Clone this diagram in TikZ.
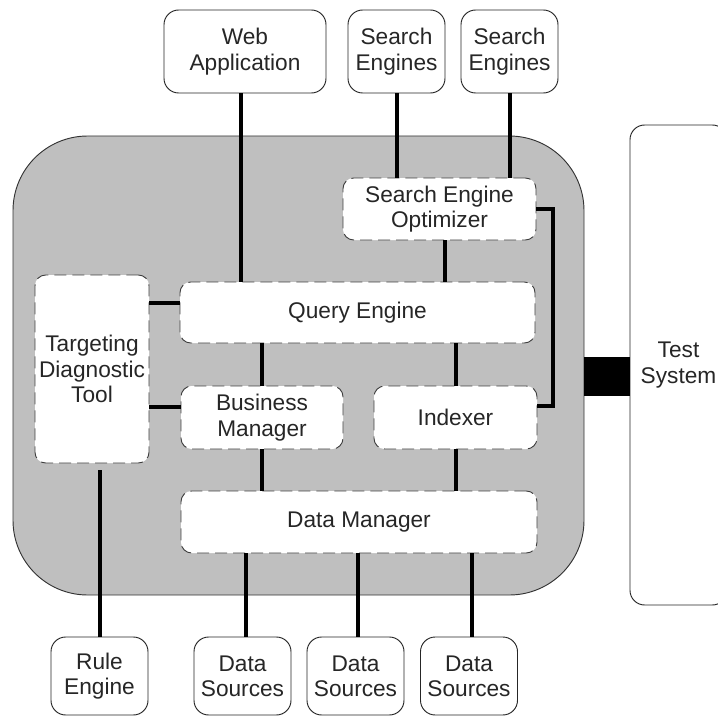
\documentclass[tikz,border=0pt]{standalone}
\usepackage{fontspec}
\setmainfont{Liberation Sans}
\begin{document}
\begin{tikzpicture}[x=0.75pt,y=-0.75pt,
    font=\fontsize{17}{19}\selectfont,
    ext/.style={draw=black!85,fill=white,rounded corners=11pt,align=center,inner sep=0pt,line width=0.7pt,text=black!85},
    part/.style={draw=black!75,fill=white,rounded corners=8pt,dash pattern=on 9pt off 4.5pt,align=center,inner sep=0pt,line width=0.7pt,text=black!85},
    link/.style={line width=3pt}]
  \useasboundingbox (0,0) rectangle (718,717);
  \node[draw=black!80,fill=black!25,rounded corners=56pt,minimum width=428.25pt,minimum height=344.25pt,line width=0.7pt] (core) at (298.5,365.5) {};
  \node[ext,minimum width=72.75pt,minimum height=360pt] (test) at (678.5,365) {Test\\System};
  \node[ext,minimum width=121.5pt,minimum height=62.25pt] (web) at (245,51.5) {Web\\Application};
  \node[ext,minimum width=72.75pt,minimum height=62.25pt] (se1) at (396.5,51.5) {Search\\Engines};
  \node[ext,minimum width=72.75pt,minimum height=62.25pt] (se2) at (509.5,51.5) {Search\\Engines};
  \node[ext,minimum width=72.75pt,minimum height=58.5pt] (rule) at (99.5,676) {Rule\\Engine};
  \node[ext,minimum width=72.75pt,minimum height=58.5pt] (ds1) at (242.5,676) {Data\\Sources};
  \node[ext,minimum width=72.75pt,minimum height=58.5pt] (ds2) at (355.5,676) {Data\\Sources};
  \node[ext,minimum width=72.75pt,minimum height=58.5pt] (ds3) at (469,676) {Data\\Sources};
  \node[part,minimum width=144.75pt,minimum height=46.5pt] (seo) at (439.5,209) {Search Engine\\Optimizer};
  \node[part,minimum width=266.25pt,minimum height=45.75pt] (query) at (357.5,312.5) {Query Engine};
  \node[part,minimum width=85.5pt,minimum height=141pt] (tdt) at (92,369) {Targeting\\Diagnostic\\Tool};
  \node[part,minimum width=121.5pt,minimum height=47.25pt] (bm) at (262,417.5) {Business\\Manager};
  \node[part,minimum width=122.25pt,minimum height=47.25pt] (idx) at (455.5,417.5) {Indexer};
  \node[part,minimum width=267pt,minimum height=46.5pt] (dm) at (359,522) {Data Manager};
  \coordinate (tap) at (607,376.5);
  \draw[line width=29.25pt] (core.east |- tap) -- (test.west |- tap);
  \draw[link] ([xshift=-3pt]web.south) -- ([xshift=-3pt]web.south |- query.north);
  \draw[link] (se1.south) -- (se1.south |- seo.north);
  \draw[link] (se2.south) -- (se2.south |- seo.north);
  \draw[link] ([xshift=4pt]seo.south) -- ([xshift=4pt]seo.south |- query.north);
  \draw[link] (seo.east) -- ++(17,0) |- ([yshift=8.5pt]idx.east);
  \coordinate (qw) at ([yshift=7pt]query.west);
  \coordinate (bw) at ([yshift=8pt]bm.west);
  \draw[link] (qw) -- (tdt.east |- qw);
  \draw[link] (bw) -- (tdt.east |- bw);
  \draw[link,shorten >=5pt] (rule.north) -- (rule.north |- tdt.south);
  \draw[link] (query.south -| bm.north) -- (bm.north);
  \draw[link] (query.south -| idx.north) -- (idx.north);
  \draw[link] (bm.south) -- (bm.south |- dm.north);
  \draw[link] (idx.south) -- (idx.south |- dm.north);
  \draw[link] ([xshift=2.5pt]ds1.north) -- ([xshift=2.5pt]ds1.north |- dm.south);
  \draw[link] ([xshift=2pt]ds2.north) -- ([xshift=2pt]ds2.north |- dm.south);
  \draw[link] ([xshift=2pt]ds3.north) -- ([xshift=2pt]ds3.north |- dm.south);
\end{tikzpicture}
\end{document}
